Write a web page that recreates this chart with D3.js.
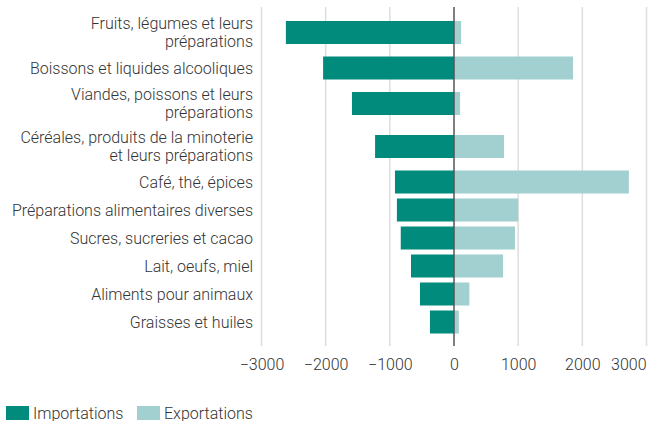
<!DOCTYPE html>
<html>
<head>
<meta charset="utf-8">
<script src="https://cdn.jsdelivr.net/npm/d3@7"></script>
<style>
  html, body { margin: 0; padding: 0; background: #fff; }
  svg { display: block; font-family: Roboto, "Noto Sans", sans-serif; }
</style>
</head>
<body>
<svg id="chart" width="648" height="421"></svg>
<script>
const categories = [
  "Fruits, légumes et leurs préparations",
  "Boissons et liquides alcooliques",
  "Viandes, poissons et leurs préparations",
  "Céréales, produits de la minoterie et leurs préparations",
  "Café, thé, épices",
  "Préparations alimentaires diverses",
  "Sucres, sucreries et cacao",
  "Lait, oeufs, miel",
  "Aliments pour animaux",
  "Graisses et huiles"
];
const importations = [-2620, -2040, -1590, -1230, -920, -890, -830, -670, -530, -375];
const exportations = [110, 1855, 95, 780, 2725, 1000, 950, 765, 240, 75];
const tickValues = [-3000, -2000, -1000, 0, 1000, 2000, 3000];
const seriesNames = ["Importations", "Exportations"];
const colors = ["#008B7D", "#A2CFCF"];

const svg = d3.select("#chart");
const plotLeft = 261.5, plotRight = 646.5, plotTop = 7, plotBottom = 346;
const labelRight = 253, wrapWidth = 246, lineH = 18, fs = 16;

const x = d3.scaleLinear().domain([-3000, 3000]).range([plotLeft, plotRight]);

// Wrap labels by measuring
const measure = svg.append("text").attr("font-size", fs).attr("font-weight", 300);
function wrap(label) {
  const words = label.split(" ");
  const lines = [];
  let cur = "";
  for (const w of words) {
    const test = cur ? cur + " " + w : w;
    measure.text(test);
    if (measure.node().getComputedTextLength() > wrapWidth && cur) {
      lines.push(cur);
      cur = w;
    } else cur = test;
  }
  lines.push(cur);
  return lines;
}
const wrapped = categories.map(wrap);
measure.remove();

// Row layout: taller rows for wrapped labels
const rowTop0 = 11;
const heights = wrapped.map(l => 28 + 15 * (l.length - 1));
const centers = [];
let acc = rowTop0;
heights.forEach(h => { centers.push(acc + h / 2); acc += h; });
const y = d3.scaleOrdinal().domain(categories).range(centers);
const barH = 23;

// Gridlines
svg.append("g").selectAll("line").data(tickValues.filter(d => d !== 0)).join("line")
  .attr("x1", d => x(d)).attr("x2", d => x(d))
  .attr("y1", plotTop).attr("y2", plotBottom)
  .attr("stroke", "#dedede").attr("stroke-width", 1.5);

// Bars
const g = svg.append("g");
g.selectAll("rect.imp").data(categories).join("rect").attr("class", "imp")
  .attr("x", (d, i) => x(importations[i]))
  .attr("width", (d, i) => x(0) - x(importations[i]))
  .attr("y", d => y(d) - barH / 2).attr("height", barH)
  .attr("fill", colors[0]);
g.selectAll("rect.exp").data(categories).join("rect").attr("class", "exp")
  .attr("x", x(0))
  .attr("width", (d, i) => x(exportations[i]) - x(0))
  .attr("y", d => y(d) - barH / 2).attr("height", barH)
  .attr("fill", colors[1]);

// Zero line
svg.append("line")
  .attr("x1", x(0)).attr("x2", x(0)).attr("y1", plotTop).attr("y2", plotBottom)
  .attr("stroke", "#555").attr("stroke-width", 1.5);

// X axis labels
const xAxis = d3.axisBottom(x).tickValues(tickValues).tickSize(0).tickPadding(0)
  .tickFormat(d => d3.format("d")(d).replace("-", "\u2212"));
const ax = svg.append("g").attr("transform", `translate(0,${plotBottom})`).call(xAxis);
ax.select(".domain").remove();
ax.selectAll("text").attr("font-size", fs).attr("font-weight", 300)
  .attr("font-family", "Roboto, sans-serif").attr("fill", "#333")
  .attr("dy", null).attr("y", 24);
// keep the last label inside the picture
ax.selectAll(".tick").filter(d => d === tickValues[tickValues.length - 1])
  .select("text").attr("text-anchor", "end").attr("x", -0.5);

// Category labels
const lbl = svg.append("g").selectAll("text").data(categories).join("text")
  .attr("x", labelRight)
  .attr("text-anchor", "end")
  .attr("font-size", fs).attr("font-weight", 300).attr("fill", "#333");
lbl.each(function(d, i) {
  const lines = wrapped[i];
  const t = d3.select(this);
  const startY = y(d) - (lines.length - 1) * lineH / 2 + 5.5;
  lines.forEach((ln, j) => {
    t.append("tspan").attr("x", labelRight).attr("y", startY + j * lineH).text(ln);
  });
});

// Legend
const legend = svg.append("g");
const legX = [6, 137];
seriesNames.forEach((name, i) => {
  legend.append("rect").attr("x", legX[i]).attr("y", 406).attr("width", 23).attr("height", 14)
    .attr("fill", colors[i]);
  legend.append("text").attr("x", legX[i] + 27).attr("y", 418.5)
    .attr("font-size", fs).attr("font-weight", 300).attr("fill", "#333").text(name);
});
</script>
</body>
</html>
